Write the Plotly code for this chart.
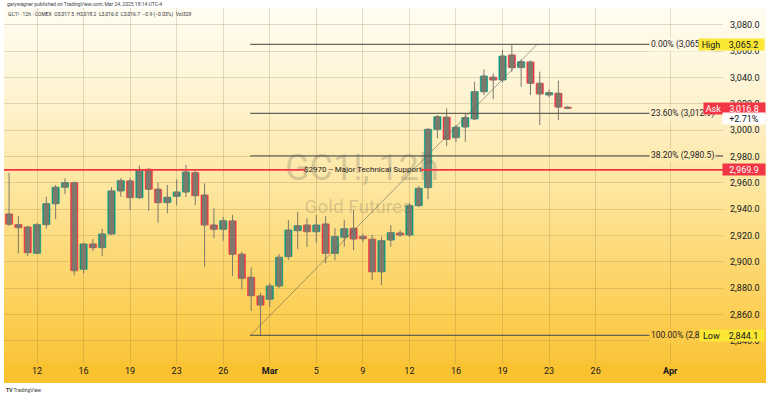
import plotly.graph_objects as go

# ---------------- data ----------------
bar_index = list(range(-3, 58))  # 12h bars, 0 = Feb 12 06:00, 57 = Mar 24 18:00
opens = [2936.4, 2928.3, 2926.5, 2906.5, 2928.3, 2944.2, 2956.7, 2960.2, 2894.4, 2913.6,
         2910.8, 2921.2, 2953.9, 2961.5, 2948.8, 2970.3, 2955.2, 2945.0, 2949.8, 2953.1,
         2967.8, 2950.8, 2928.0, 2924.8, 2931.1, 2905.8, 2888.3, 2874.1, 2871.6, 2881.7,
         2904.0, 2923.7, 2928.0, 2922.9, 2928.8, 2906.5, 2918.7, 2925.5, 2919.2, 2917.2,
         2892.5, 2916.6, 2921.9, 2920.4, 2942.7, 2956.4, 3000.7, 3009.9, 2994.4, 3002.5,
         3008.6, 3029.3, 3040.3, 3038.2, 3057.2, 3047.6, 3051.9, 3035.7, 3026.8, 3028.1,
         3017.5]
highs = [2967.8, 2934.9, 2927.3, 2929.5, 2949.5, 2958.4, 2963.5, 2961.0, 2914.3, 2917.4,
         2925.0, 2956.7, 2963.7, 2963.7, 2973.1, 2971.3, 2960.2, 2958.4, 2962.7, 2973.6,
         2969.8, 2959.7, 2940.7, 2934.1, 2935.6, 2907.7, 2895.9, 2876.6, 2884.0, 2906.0,
         2931.8, 2938.1, 2933.1, 2935.6, 2934.9, 2925.5, 2931.8, 2939.4, 2921.5, 2920.4,
         2919.2, 2928.0, 2924.2, 2944.7, 2957.7, 3001.5, 3011.6, 3016.7, 3004.0, 3012.9,
         3036.9, 3046.3, 3043.3, 3061.0, 3065.2, 3053.9, 3053.0, 3044.5, 3031.0, 3037.7,
         3018.2]
lows = [2927.3, 2906.5, 2904.5, 2906.0, 2925.2, 2932.4, 2951.4, 2889.8, 2891.0, 2908.3,
        2904.5, 2920.5, 2949.5, 2939.4, 2947.8, 2938.9, 2929.8, 2936.9, 2943.0, 2949.3,
        2943.2, 2896.3, 2917.9, 2916.0, 2889.3, 2879.2, 2862.7, 2844.1, 2865.9, 2880.2,
        2901.4, 2909.6, 2911.5, 2914.1, 2898.9, 2901.4, 2911.5, 2909.0, 2915.0, 2886.2,
        2882.4, 2911.5, 2919.0, 2918.9, 2941.7, 2947.6, 2993.9, 2988.1, 2991.0, 2991.3,
        3007.8, 3026.8, 3023.5, 3036.2, 3044.5, 3033.1, 3026.8, 3004.0, 3025.0, 3007.8,
        3016.0]
closes = [2928.6, 2926.0, 2907.0, 2928.3, 2944.2, 2956.7, 2960.2, 2893.3, 2913.6, 2910.8,
          2921.2, 2953.9, 2961.7, 2948.8, 2969.8, 2955.2, 2945.0, 2949.1, 2953.1, 2968.3,
          2950.3, 2928.0, 2924.8, 2931.3, 2905.8, 2887.5, 2874.3, 2867.2, 2881.7, 2903.5,
          2924.2, 2927.5, 2922.9, 2928.0, 2906.5, 2919.2, 2925.2, 2917.4, 2917.6, 2892.5,
          2916.1, 2922.2, 2920.4, 2942.7, 2955.9, 3000.7, 3010.3, 2993.1, 3002.3, 3009.6,
          3029.3, 3041.2, 3038.2, 3056.4, 3047.6, 3052.1, 3035.7, 3027.6, 3028.6, 3017.6,
          3016.7]

tick_index = [0, 5, 10, 15, 20, 25, 30, 35, 40, 45, 50, 55, 60, 68]
tick_labels = ["12", "16", "19", "23", "26", "<b>Mar</b>", "5", "9", "12", "16",
               "19", "23", "26", "<b>Apr</b>"]

fib_names = ["0.00%", "23.60%", "38.20%", "100.00%"]
fib_prices = [3065.2, 3012.9, 2980.5, 2844.1]
fib_anchor_index = [22.9, 53.7]
fib_anchor_price = [2844.1, 3065.2]

support_price = 2969.9
support_text = "$2970 -- Major Technical Support"
high_price = 3065.2
low_price = 2844.1
ask_price = 3016.8
ask_change = "+2.71%"

header_1 = "garywagner published on TradingView.com, Mar 24, 2025 18:14 UTC-4"
header_2 = ("GC1! · 12h · COMEX  O3,017.5  H3,018.2  L3,016.0  C3,016.7  "
            "−0.9 (−0.03%)  Vol329")
watermark_1 = "GC1!, 12h"
watermark_2 = "Gold Futures"

# ---------------- layout geometry ----------------
W, H = 768, 397
PL, PR, PT, PB = 4, 723, 8, 364          # plot area in pixels
X_RANGE = [-3.545, 73.68]
Y_RANGE = [2822.4, 3092.9]
FONT = "Roboto, Liberation Sans, sans-serif"
UP, DOWN = "#089981", "#f23645"
WICK = "#7d7a6c"


def px_x(px):
    return (px - PL) / (PR - PL)


def px_y(py):
    return (PB - py) / (PB - PT)


def price_to_py(p):
    return PT + (Y_RANGE[1] - p) / (Y_RANGE[1] - Y_RANGE[0]) * (PB - PT)


stops = [(0, (255, 253, 246)), (8, (255, 252, 242)), (100, (254, 243, 208)),
         (200, (253, 228, 152)), (300, (252, 209, 92)), (364, (250, 196, 56))]


def color_at(py):
    for (y0, c0), (y1, c1) in zip(stops[:-1], stops[1:]):
        if y0 <= py <= y1:
            t = (py - y0) / (y1 - y0)
            c = [round(a + (b - a) * t) for a, b in zip(c0, c1)]
            return "rgb(%d,%d,%d)" % tuple(c)
    return "rgb(%d,%d,%d)" % stops[-1][1]


shapes = []
step = 4
py = PT
while py < PB:
    shapes.append(dict(type="rect", xref="paper", yref="paper",
                       x0=px_x(PL), x1=px_x(766), y0=px_y(min(py + step, PB)), y1=px_y(py),
                       fillcolor=color_at(py + step / 2), line_width=0, layer="below"))
    py += step
# time axis band
shapes.append(dict(type="rect", xref="paper", yref="paper", x0=px_x(PL), x1=px_x(766),
                   y0=px_y(383), y1=px_y(PB), fillcolor="#fbc22f", line_width=0,
                   layer="below"))

# fib lines
for p in fib_prices:
    shapes.append(dict(type="line", xref="x", yref="y", x0=fib_anchor_index[0],
                       x1=X_RANGE[1], y0=p, y1=p,
                       line=dict(color="rgba(85,85,80,0.9)", width=1.3)))
# fib trend line
shapes.append(dict(type="line", xref="x", yref="y",
                   x0=fib_anchor_index[0], y0=fib_anchor_price[0],
                   x1=fib_anchor_index[1], y1=fib_anchor_price[1],
                   line=dict(color="rgba(90,90,90,0.6)", width=0.9)))
# support line (gap where its label sits)
for a, b in [(0, px_x(305)), (px_x(421), 1)]:
    shapes.append(dict(type="line", xref="paper", yref="y", x0=a, x1=b,
                       y0=support_price, y1=support_price,
                       line=dict(color=DOWN, width=1.6)))

fig = go.Figure()

# watermark (under the candles)
fig.add_trace(go.Scatter(x=[34.9, 34.5], y=[2969.0, 2940.9], mode="text",
                         text=[watermark_1, watermark_2],
                         textfont=dict(size=[36, 19], color="rgba(80,80,80,0.22)",
                                       family=FONT),
                         hoverinfo="skip", showlegend=False))

# wicks (gray) via candlestick
fig.add_trace(go.Candlestick(x=bar_index, open=opens, high=highs, low=lows, close=closes,
                             increasing=dict(line=dict(color=WICK, width=1), fillcolor=WICK),
                             decreasing=dict(line=dict(color=WICK, width=1), fillcolor=WICK),
                             whiskerwidth=0, showlegend=False, hoverinfo="skip"))

# coloured bodies
body_base = [min(o, c) for o, c in zip(opens, closes)]
body_len = [abs(c - o) for o, c in zip(opens, closes)]
body_col = [UP if c >= o else DOWN for o, c in zip(opens, closes)]
fig.add_trace(go.Bar(x=bar_index, base=body_base, y=body_len, width=0.78,
                     marker=dict(color=body_col, line=dict(color=body_col, width=0.6)),
                     showlegend=False, hoverinfo="skip"))

annotations = []
# support label
annotations.append(dict(xref="paper", yref="y", x=px_x(363), y=support_price,
                        xanchor="center", yanchor="middle",
                        text=support_text, showarrow=False,
                        font=dict(size=8, color="#1e2026", family=FONT)))
# fib labels
for name, p in zip(fib_names, fib_prices):
    annotations.append(dict(xref="paper", yref="y", x=px_x(649), y=p, xanchor="left",
                            yanchor="middle",
                            text="%s (%s)" % (name, format(p, ",.1f")), showarrow=False,
                            font=dict(size=8.5, color="#1e2026", family=FONT),
                            bgcolor=color_at(price_to_py(p)), borderpad=1))


def box(text, cx, w, y, bg, fg):
    return dict(xref="paper", yref="y", x=px_x(cx), y=y, text=text, showarrow=False,
                xanchor="center", yanchor="middle",
                width=w, height=11, bgcolor=bg, borderpad=0, align="center",
                font=dict(size=9, color=fg, family=FONT))


YEL = "#fbe734"
annotations += [
    box("High", 711, 24, high_price, YEL, "#131722"),
    box(format(high_price, ",.1f"), 743.5, 41, high_price, YEL, "#131722"),
    box("Ask", 713.5, 19, ask_price, DOWN, "#ffffff"),
    box(format(ask_price, ",.1f"), 744, 42, ask_price, DOWN, "#ffffff"),
    box(ask_change, 744, 42, ask_price - 8.2, "#ffffff", "#131722"),
    box(format(support_price, ",.1f"), 744, 42, support_price, DOWN, "#ffffff"),
    box("Low", 711.5, 23, low_price, YEL, "#131722"),
    box(format(low_price, ",.1f"), 743.5, 41, low_price, YEL, "#131722"),
]
# header + footer
annotations.append(dict(xref="paper", yref="paper", x=px_x(5), y=px_y(4), xanchor="left",
                        yanchor="middle", text=header_1, showarrow=False,
                        font=dict(size=5, color="#444444", family=FONT)))
annotations.append(dict(xref="paper", yref="paper", x=px_x(6), y=px_y(15), xanchor="left",
                        yanchor="middle", text=header_2, showarrow=False,
                        font=dict(size=5, color="#333333", family=FONT)))
annotations.append(dict(xref="paper", yref="paper", x=px_x(4), y=px_y(390), xanchor="left",
                        yanchor="middle", text="<b>TV</b> TradingView", showarrow=False,
                        font=dict(size=5, color="#333333", family=FONT)))

fig.update_layout(
    width=W, height=H,
    margin=dict(l=PL, r=W - PR, t=PT, b=H - PB, pad=0),
    paper_bgcolor="#ffffff", plot_bgcolor="rgba(0,0,0,0)",
    showlegend=False, hovermode=False, boxgap=0.35,
    shapes=shapes, annotations=annotations,
    font=dict(family=FONT, size=9, color="#131722"),
    xaxis=dict(range=X_RANGE, tickmode="array", tickvals=tick_index, ticktext=tick_labels,
               showgrid=True, gridcolor="rgba(130,105,50,0.22)", gridwidth=1,
               zeroline=False, showline=False, ticks="", rangeslider=dict(visible=False),
               tickfont=dict(size=9, color="#131722", family=FONT), fixedrange=True),
    yaxis=dict(range=Y_RANGE, side="right", dtick=20, tick0=2840, tickformat=",.1f",
               showgrid=True, gridcolor="rgba(130,105,50,0.22)", gridwidth=1,
               zeroline=False, showline=False, ticks="", ticklabelstandoff=6,
               tickfont=dict(size=9, color="#131722", family=FONT), fixedrange=True),
)

fig.write_html("out.html", config=dict(displayModeBar=False),
               post_script="document.body.style.margin='0px';"
                           "document.body.style.overflow='hidden';")
